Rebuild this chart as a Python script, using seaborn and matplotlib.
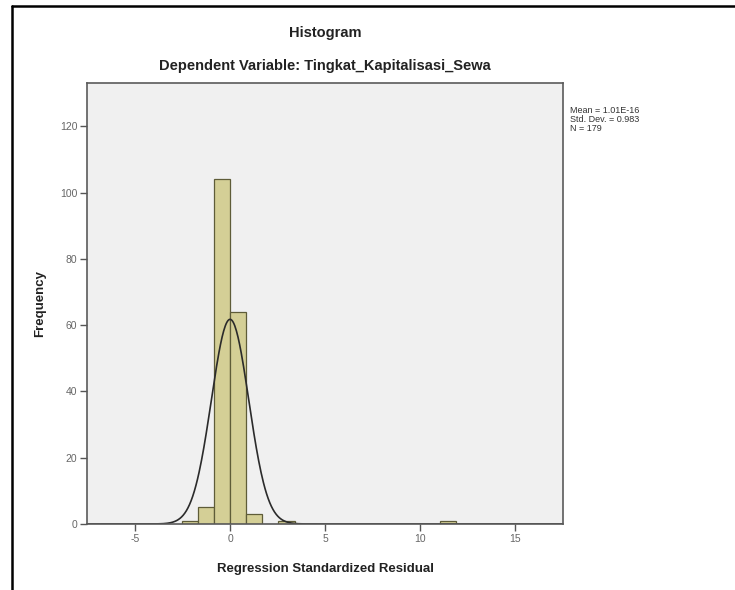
import numpy as np
import pandas as pd
import seaborn as sns
import matplotlib.pyplot as plt
from matplotlib.lines import Line2D

# Histogram bins (bin width ~0.85)
bin_width = 0.85
bin_centers = [-2.125, -1.275, -0.425, 0.425, 1.275, 2.125, 2.975, 11.475]
bin_counts = [1, 5, 104, 64, 3, 0, 1, 1]

# Stats printed beside the chart
mean_val = 1.01e-16
std_dev = 0.983
n_obs = 179

x_ticks = [-5, 0, 5, 10, 15]
y_ticks = [0, 20, 40, 60, 80, 100, 120]

sns.set_style("white")
plt.rcParams['font.family'] = ['Liberation Sans', 'DejaVu Sans']
plt.rcParams['axes.unicode_minus'] = False

df = pd.DataFrame({'resid': bin_centers, 'count': bin_counts})

fig = plt.figure(figsize=(7.35, 5.9), dpi=100)
ax = fig.add_axes([0.1184, 0.1119, 0.766 - 0.1184, 0.859 - 0.1119])
ax.set_facecolor('#f0f0f0')

sns.histplot(data=df, x='resid', weights='count', binwidth=bin_width,
             binrange=(-3 * bin_width, 14 * bin_width), ax=ax,
             color='#d4cf96', edgecolor='#5e5c38', linewidth=0.9, alpha=1)

# Normal curve scaled to counts
xs = np.linspace(-7.53, 17.53, 600)
ys = n_obs * bin_width * np.exp(-0.5 * ((xs - mean_val) / std_dev) ** 2) / (std_dev * np.sqrt(2 * np.pi))
sns.lineplot(x=xs, y=ys, ax=ax, color='#2b2b2b', linewidth=1.2)

ax.set_xlim(-7.53, 17.53)
ax.set_ylim(0, 133)
ax.set_xticks(x_ticks)
ax.set_yticks(y_ticks)
ax.tick_params(axis='both', bottom=True, left=True, direction='out', length=5, width=1,
               color='#555555', labelsize=7.5, labelcolor='#666666', pad=2)
for side in ['left', 'bottom', 'top', 'right']:
    ax.spines[side].set_color('#5a5a5a')
    ax.spines[side].set_linewidth(1.2)

ax.set_xlabel('Regression Standardized Residual', fontsize=9.5, fontweight='bold',
              color='#222222', labelpad=14)
ax.set_ylabel('Frequency', fontsize=9.5, fontweight='bold', color='#222222', labelpad=10)

fig.text(0.442, 1 - 33 / 590, 'Histogram', ha='center', va='center',
         fontsize=10.5, fontweight='bold', color='#222222')
fig.text(0.442, 1 - 66 / 590, 'Dependent Variable: Tingkat_Kapitalisasi_Sewa', ha='center',
         va='center', fontsize=10.5, fontweight='bold', color='#222222')

stats = 'Mean = 1.01E-16\nStd. Dev. = 0.983\nN = 179'
fig.text(570 / 735, 1 - 106 / 590, stats, ha='left', va='top', fontsize=6.5,
         color='#333333', linespacing=1.0)

# Outer frame (left and top edges visible)
fig.add_artist(Line2D([11.7 / 735, 11.7 / 735], [0, 1 - 5.5 / 590], color='black', linewidth=1.8))
fig.add_artist(Line2D([11.7 / 735, 1], [1 - 5.5 / 590, 1 - 5.5 / 590], color='black', linewidth=1.8))

fig.savefig('out.png', dpi=100)
plt.close(fig)
